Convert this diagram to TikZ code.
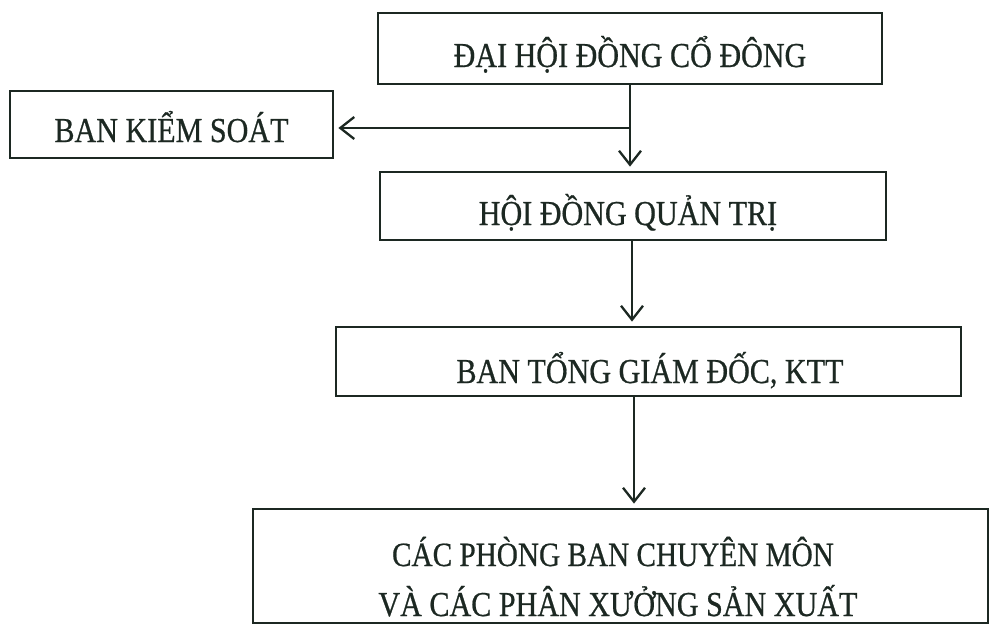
\documentclass[tikz,border=0pt]{standalone}
\usepackage{fontspec}
\setmainfont{Liberation Serif}[FakeStretch=0.86,FakeBold=0.6]
\usetikzlibrary{arrows.meta}
\definecolor{ink}{RGB}{28,40,34}
\begin{document}
\begin{tikzpicture}[x=1pt,y=-1pt,
  box/.style={draw=ink, line width=2.8pt, rectangle, inner sep=0pt},
  txt/.style={text=ink, font=\fontsize{35}{42}\selectfont, inner sep=0pt, anchor=base},
  conn/.style={draw=ink, line width=2.3pt, -{Straight Barb[length=14pt,width=22pt,line width=2.3pt]}, shorten >=4pt}]
\useasboundingbox (0,0) rectangle (990,624);
\clip (0,0) rectangle (990,624);
% boxes
\node[box, minimum width=504pt, minimum height=71pt] (b1) at (630,48.5) {};
\node[box, minimum width=323pt, minimum height=67pt] (bks) at (171.5,124.5) {};
\node[box, minimum width=506pt, minimum height=68pt] (b2) at (633,206) {};
\node[box, minimum width=625pt, minimum height=69pt] (b3) at (648.5,361.5) {};
\node[box, minimum width=735pt, minimum height=114pt] (b4) at (620.5,566) {};
% texts
\node[txt] (t1) at (630,67) {ĐẠI HỘI ĐỒNG CỔ ĐÔNG};
\node[txt] (tks) at (171.5,142) {BAN KIỂM SOÁT};
\node[txt] (t2) at (628,225) {HỘI ĐỒNG QUẢN TRỊ};
\node[txt] (t3) at (650,383) {BAN TỔNG GIÁM ĐỐC, KTT};
\node[txt, font=\fontsize{34}{42}\selectfont] (t4a) at (613,566) {CÁC PHÒNG BAN CHUYÊN MÔN};
\node[txt] (t4b) at (618,616) {VÀ CÁC PHÂN XƯỞNG SẢN XUẤT};
% connectors
\coordinate (j) at (630,128);
\coordinate (x2) at (632,0);
\coordinate (x3) at (634,0);
\draw[conn] (b1.south -| j) -- (b2.north -| j);
\draw[conn] (j) -- (j -| bks.east);
\draw[conn] (b2.south -| x2) -- (b3.north -| x2);
\draw[conn] (b3.south -| x3) -- (b4.north -| x3);
\end{tikzpicture}
\end{document}
